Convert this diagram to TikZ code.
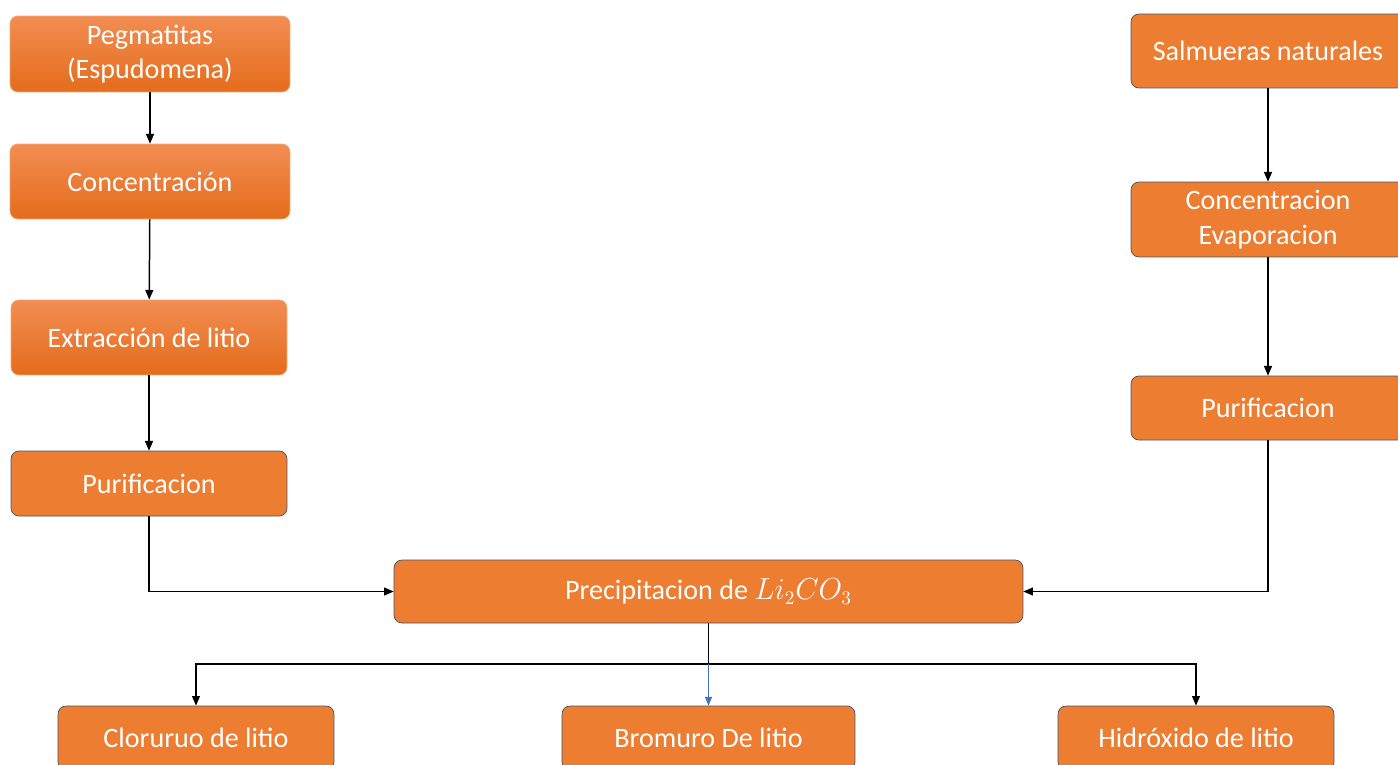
\documentclass[tikz,border=0pt]{standalone}
\usepackage{fontspec}
\setmainfont{Carlito}
\usetikzlibrary{arrows.meta}
\definecolor{naranja}{HTML}{ED7D31}
\definecolor{naranjaclaro}{HTML}{F28D52}
\definecolor{naranjaoscuro}{HTML}{E46C1C}
\definecolor{bordeoscuro}{HTML}{44546A}
\definecolor{bordeclaro}{HTML}{F4A873}
\definecolor{azulflecha}{HTML}{4472C4}
\begin{document}
\begin{tikzpicture}[x=0.02cm,y=-0.02cm,
	caja/.style={draw=bordeoscuro, fill=naranja, rounded corners=4.5pt, text=white,
		align=center, inner sep=0pt, font=\fontsize{16}{19.6}\selectfont},
	cajagrad/.style={caja, draw=bordeclaro, top color=naranjaclaro, bottom color=naranjaoscuro},
	flecha/.style={-{Triangle[length=5.5pt,width=4.5pt]}, line width=0.85pt},
	flechaazul/.style={-{Triangle[length=5pt,width=4pt]}, azulflecha, line width=0.5pt}]
	\useasboundingbox (0,0) rectangle (1398,764);
	% lado izquierdo: pegmatitas
	\node[cajagrad, minimum width=5.6cm, minimum height=1.52cm] (peg) at (150,54) {Pegmatitas\\(Espudomena)};
	\node[cajagrad, minimum width=5.6cm, minimum height=1.5cm] (conc) at (150,181.5) {Concentración};
	\node[cajagrad, minimum width=5.52cm, minimum height=1.5cm] (extr) at (149,337.5) {Extracción de litio};
	\node[caja, minimum width=5.52cm, minimum height=1.3cm] (purizq) at (149,483.5) {Purificacion};
	% lado derecho: salmueras
	\node[caja, minimum width=5.48cm, minimum height=1.48cm] (salm) at (1268,51) {Salmueras naturales};
	\node[caja, minimum width=5.48cm, minimum height=1.5cm] (evap) at (1268,219.5) {Concentracion\\Evaporacion};
	\node[caja, minimum width=5.48cm, minimum height=1.28cm] (purder) at (1268,408) {Purificacion};
	% centro
	\node[caja, minimum width=12.58cm, minimum height=1.26cm] (precip) at (708.5,591.5) {Precipitacion de $Li_2CO_3$};
	% productos
	\node[caja, minimum width=5.52cm, minimum height=1.28cm] (clor) at (196,738) {Cloruruo de litio};
	\node[caja, minimum width=5.86cm, minimum height=1.28cm] (brom) at (708.5,738) {Bromuro De litio};
	\node[caja, minimum width=5.52cm, minimum height=1.28cm] (hidr) at (1196,738) {Hidróxido de litio};
	\coordinate (rama) at (708.5,664);
	% flechas
	\draw[flecha] (peg) -- (conc);
	\draw[flecha] (conc) -- (extr);
	\draw[flecha] (extr) -- (purizq);
	\draw[flecha] (purizq.south) |- (precip.west);
	\draw[flecha] (salm) -- (evap);
	\draw[flecha] (evap) -- (purder);
	\draw[flecha] (purder.south) |- (precip.east);
	\draw[line width=0.85pt] (precip.south) -- (rama);
	\draw[flecha] (rama) -| (clor.north);
	\draw[flecha] (rama) -| (hidr.north);
	\draw[flechaazul] (rama) -- (brom.north);
\end{tikzpicture}
\end{document}
